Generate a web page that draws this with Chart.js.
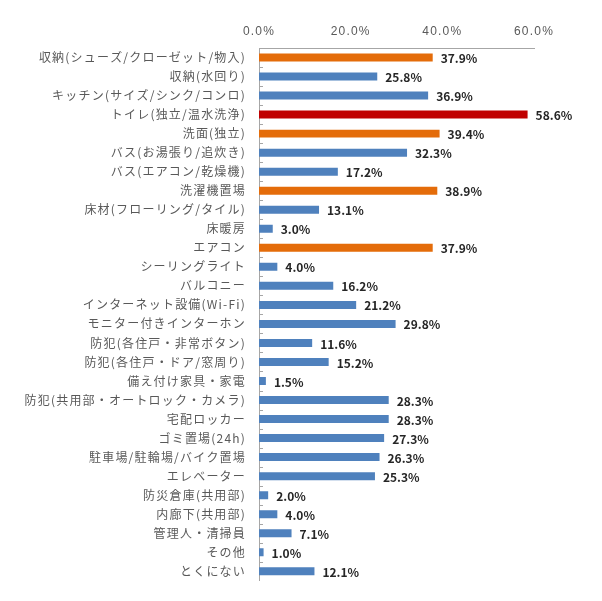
<!DOCTYPE html>
<html lang="ja">
<head>
  <meta charset="UTF-8">
  <title>設備の希望</title>
  <script src="https://cdn.jsdelivr.net/npm/chart.js"></script>
  <style>
    html, body { margin: 0; padding: 0; background: #fff; }
    #wrap { width: 602px; height: 601px; }
  </style>
</head>
<body>
<div id="wrap"><canvas id="chart"></canvas></div>
<script>
  const categories = [
    '収納(シューズ/クローゼット/物入)', '収納(水回り)', 'キッチン(サイズ/シンク/コンロ)',
    'トイレ(独立/温水洗浄)', '洗面(独立)', 'バス(お湯張り/追炊き)', 'バス(エアコン/乾燥機)',
    '洗濯機置場', '床材(フローリング/タイル)', '床暖房', 'エアコン', 'シーリングライト',
    'バルコニー', 'インターネット設備(Wi-Fi)', 'モニター付きインターホン',
    '防犯(各住戸・非常ボタン)', '防犯(各住戸・ドア/窓周り)', '備え付け家具・家電',
    '防犯(共用部・オートロック・カメラ)', '宅配ロッカー', 'ゴミ置場(24h)',
    '駐車場/駐輪場/バイク置場', 'エレベーター', '防災倉庫(共用部)', '内廊下(共用部)',
    '管理人・清掃員', 'その他', 'とくにない'
  ];
  const values = [37.9, 25.8, 36.9, 58.6, 39.4, 32.3, 17.2, 38.9, 13.1, 3.0, 37.9, 4.0,
    16.2, 21.2, 29.8, 11.6, 15.2, 1.5, 28.3, 28.3, 27.3, 26.3, 25.3, 2.0, 4.0, 7.1, 1.0, 12.1];
  // 0 = normal, 1 = highlight, 2 = top
  const highlight = [1, 0, 0, 2, 1, 0, 0, 1, 0, 0, 1, 0, 0, 0, 0, 0, 0, 0, 0, 0, 0, 0, 0, 0, 0, 0, 0, 0];
  const xTicks = [0, 20, 40, 60];

  const palette = ['#4F81BD', '#E46C0A', '#C00000'];

  // axis text in the original is spaced out a bit
  const spacing = {
    id: 'spacing',
    beforeDraw(chart) { chart.ctx.letterSpacing = '1.2px'; }
  };

  const valueLabels = {
    id: 'valueLabels',
    afterDatasetsDraw(chart) {
      const { ctx } = chart;
      const meta = chart.getDatasetMeta(0);
      ctx.save();
      ctx.letterSpacing = '0px';
      ctx.font = 'bold 12px "Noto Sans CJK JP", "Liberation Sans", sans-serif';
      ctx.fillStyle = '#262626';
      ctx.textAlign = 'left';
      ctx.textBaseline = 'middle';
      meta.data.forEach((bar, i) => {
        ctx.fillText(values[i].toFixed(1) + '%', bar.x + 8, bar.y + 1);
      });
      // small category ticks inside the axis
      const y = chart.scales.y;
      const left = chart.chartArea.left;
      ctx.strokeStyle = '#A6A6A6';
      ctx.lineWidth = 1;
      const step = (y.bottom - y.top) / categories.length;
      for (let i = 1; i < categories.length; i++) {
        const py = Math.round(y.top + step * i) + 0.5;
        ctx.beginPath();
        ctx.moveTo(left, py);
        ctx.lineTo(left + 4, py);
        ctx.stroke();
      }
      ctx.restore();
    }
  };

  new Chart(document.getElementById('chart'), {
    type: 'bar',
    data: {
      labels: categories,
      datasets: [{
        data: values,
        backgroundColor: highlight.map(h => palette[h]),
        categoryPercentage: 1.0,
        barPercentage: 0.42
      }]
    },
    options: {
      indexAxis: 'y',
      responsive: true,
      maintainAspectRatio: false,
      animation: false,
      layout: { padding: { left: 0, right: 68, top: 0, bottom: 10 } },
      plugins: {
        legend: { display: false },
        tooltip: { enabled: false }
      },
      scales: {
        x: {
          position: 'top',
          min: 0,
          max: 60,
          afterBuildTicks: s => { s.ticks = xTicks.map(v => ({ value: v })); },
          afterFit: s => { s.height = 48; },
          grid: { display: false, drawTicks: false },
          border: { display: true, color: '#A6A6A6' },
          ticks: {
            color: '#595959',
            padding: 9,
            font: { size: 12, family: '"Liberation Sans", "Noto Sans CJK JP", sans-serif' },
            callback: v => v.toFixed(1) + '%'
          }
        },
        y: {
          afterFit: s => { s.width = 259; },
          grid: { display: false, drawTicks: false },
          border: { display: true, color: '#A6A6A6' },
          ticks: {
            color: '#595959',
            padding: 13,
            autoSkip: false,
            font: { size: 12, family: '"Noto Sans CJK JP", sans-serif' }
          }
        }
      }
    },
    plugins: [spacing, valueLabels]
  });
</script>
</body>
</html>
